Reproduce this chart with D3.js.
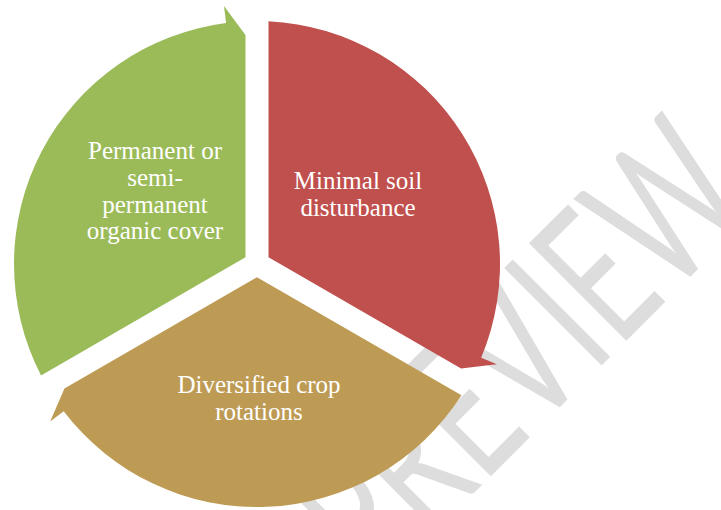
<!DOCTYPE html>
<html>
<head>
<meta charset="utf-8">
<script src="https://cdn.jsdelivr.net/npm/d3@7"></script>
<style>
  html, body { margin: 0; padding: 0; background: #fff; }
  svg { display: block; }
</style>
</head>
<body>
<svg width="721" height="510"></svg>
<script>
// three practices of the cycle, clockwise from the top
const categories = ["Minimal soil disturbance", "Diversified crop rotations", "Permanent or semi-permanent organic cover"];
const labelLines = [
  ["Minimal soil", "disturbance"],
  ["Diversified crop", "rotations"],
  ["Permanent or", "semi-", "permanent", "organic cover"]
];
const shares = [1, 1, 1];
const colors = ["#C0504D", "#BE9B54", "#9BBB59"];
const watermark = "PREVIEW";

const svg = d3.select("svg"),
      width = +svg.attr("width"),
      height = +svg.attr("height");

const cx = 257, cy = 264;
const R = 243;       // outer radius
const gap = 11.5;    // half width of the white gaps
const headLen = 7.3 * Math.PI / 180;
const flange = 17;
const tipR = 229;

// label anchors (centre x, first baseline) for each segment
const labelPos = [[358, 189], [259, 393], [155, 159]];
const lineH = 26.8;

const u = a => [Math.sin(a), -Math.cos(a)];
const n = a => [Math.cos(a), Math.sin(a)];
const pt = (a, t, off) => {
  const [ux, uy] = u(a), [nx, ny] = n(a);
  return [cx + t * ux + off * nx, cy + t * uy + off * ny];
};

// watermark sits behind the diagram, baseline along x + y = 967
const wmStart = -154;
const wx = (967 + wmStart * Math.SQRT2) / 2,
      wy = (967 - wmStart * Math.SQRT2) / 2;
svg.append("text")
  .attr("transform", `translate(${wx},${wy}) rotate(-45) scale(0.65,1)`)
  .attr("text-anchor", "start")
  .attr("font-family", "Lato, 'Open Sans', sans-serif")
  .attr("font-size", 192)
  .attr("fill", "#DDDDDD")
  .text(watermark);

const arcs = d3.pie().sort(null).value(d => d)(shares);

const segPath = d => {
  const a0 = d.startAngle, a1 = d.endAngle;
  const half = (a1 - a0) / 2;
  const corner = pt(a0 + half, gap / Math.sin(half), 0);
  const aStart = a0 + Math.asin(gap / R);
  const aEnd = a1 - headLen;
  const p = d3.path();
  p.moveTo(corner[0], corner[1]);
  const s = pt(aStart, R, 0);
  p.lineTo(s[0], s[1]);
  p.arc(cx, cy, R, aStart - Math.PI / 2, aEnd - Math.PI / 2, false);
  const f = pt(aEnd, R + flange, 0);
  p.lineTo(f[0], f[1]);
  const tip = pt(a1, tipR, -gap);
  p.lineTo(tip[0], tip[1]);
  p.closePath();
  return p.toString();
};

const seg = svg.selectAll("g.seg")
  .data(arcs)
  .enter()
  .append("g")
  .attr("class", "seg");

seg.append("path")
  .attr("d", segPath)
  .attr("fill", (d, i) => colors[i]);

seg.append("text")
  .attr("text-anchor", "middle")
  .attr("font-family", "'Liberation Serif', 'Times New Roman', serif")
  .attr("font-size", 25)
  .attr("fill", "#fff")
  .selectAll("tspan")
  .data((d, i) => labelLines[i].map(t => ({ t, i })))
  .enter()
  .append("tspan")
  .attr("x", d => labelPos[d.i][0])
  .attr("y", (d, j) => labelPos[d.i][1] + j * lineH)
  .text(d => d.t);

seg.append("title").text((d, i) => categories[i]);
</script>
</body>
</html>
